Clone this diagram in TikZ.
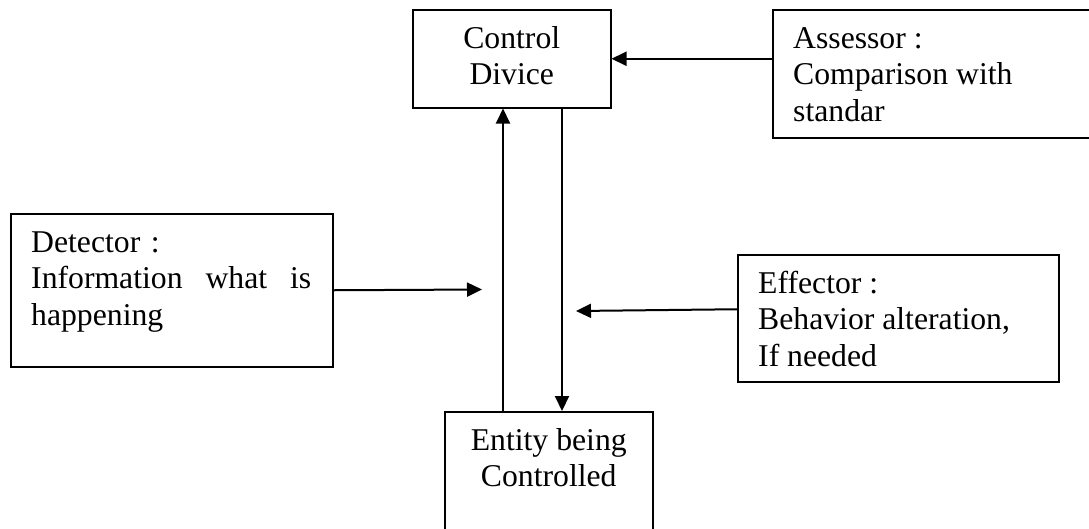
\documentclass[tikz,border=0pt]{standalone}
\usepackage{fontspec}
\setmainfont{Liberation Serif}
\usetikzlibrary{arrows.meta,positioning}

\begin{document}
\begin{tikzpicture}[x=1pt,y=-1pt,
  box/.style={draw,line width=1.5pt,anchor=north west,inner sep=0pt},
  txt/.style={inner sep=0pt,font=\fontsize{31.7pt}{36.5pt}\selectfont},
  arr/.style={line width=2pt,-{Triangle[length=15pt,width=14pt]}}]
\useasboundingbox (0,0) rectangle (1089,528);
\clip (0,0) rectangle (1089,528);
\node[box,minimum width=198pt,minimum height=98pt] (ctrl) at (412,9) {};
\node[box,minimum width=330pt,minimum height=128pt] (assessor) at (772,9) {};
\node[box,minimum width=322pt,minimum height=153pt] (detector) at (10,213) {};
\node[box,minimum width=321pt,minimum height=127pt] (effector) at (737,254) {};
\node[box,minimum width=208pt,minimum height=160pt] (entity) at (444,411) {};
\node[txt,align=center,below=13.5pt of ctrl.north] (ctrltxt) {\strut Control\\Divice};
\node[txt,align=left,below right=13.5pt and 21pt of assessor.north west] (assessortxt) {\strut Assessor :\\Comparison with\\standar};
\node[txt,align=left,text width=280pt,below right=13.5pt and 21pt of detector.north west] (detectortxt) {\strut Detector :\\Information\hfill what\hfill is\\happening};
\node[txt,align=left,below right=13.5pt and 21pt of effector.north west] (effectortxt) {\strut Effector :\\Behavior alteration,\\If needed};
\node[txt,align=center,below=13.5pt of entity.north] (entitytxt) {\strut Entity being\\Controlled};
\coordinate (upx) at (503,0);
\coordinate (dnx) at (562,0);
\coordinate (dettip) at (482,289.5);
\coordinate (efftip) at (576,311);
\draw[arr] (assessor.west |- ctrl.east) -- (ctrl.east);
\draw[arr] (detector.east) -- (dettip);
\draw[arr] ([yshift=9pt]effector.west) -- (efftip);
\draw[arr] (entity.north -| upx) -- (ctrl.south -| upx);
\draw[arr] (ctrl.south -| dnx) -- (entity.north -| dnx);
\end{tikzpicture}
\end{document}
